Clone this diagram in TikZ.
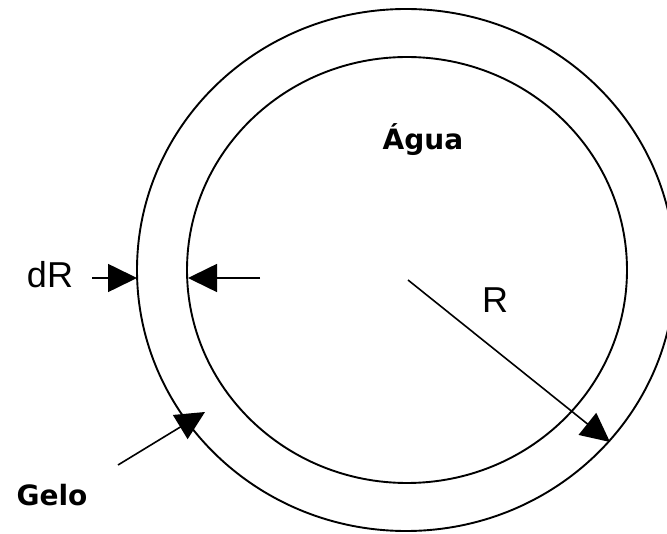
\documentclass[tikz,border=0pt]{standalone}
\usepackage{fontspec}
\setmainfont{Liberation Sans}
\newfontfamily\verdfont{DejaVu Sans}
\usetikzlibrary{arrows.meta}

\begin{document}
\begin{tikzpicture}[x=1pt,y=-1pt,
        ring/.style={line width=1.9pt},
        arr/.style={line width=1.6pt,-{Triangle[length=29pt,width=28pt]}},
        lbl/.style={anchor=base,inner sep=0pt,font=\fontsize{36}{40}\selectfont},
        boldlbl/.style={anchor=base,inner sep=0pt,font=\verdfont\bfseries\fontsize{28}{32}\selectfont}]
        \useasboundingbox (0,0) rectangle (667,534);
        \draw[ring] (406,270) ellipse [x radius=269,y radius=261];
        \draw[ring] (407,270) ellipse [x radius=220,y radius=213];
        \node[boldlbl] (agua) at (423,150) {Água};
        \node[boldlbl] (gelo) at (52,505) {Gelo};
        \node[lbl] (dR) at (50,288) {dR};
        \node[lbl] (R) at (495,313) {R};
        \coordinate (dRtail) at (92,278);
        \coordinate (outerL) at (137,278);
        \coordinate (innertail) at (260,278);
        \coordinate (innerL) at (188,278);
        \coordinate (gelotail) at (118,465);
        \coordinate (gelotip) at (205,412);
        \coordinate (centre) at (408,280);
        \coordinate (outerR) at (610,442);
        \draw[arr] (dRtail)--(outerL);
        \draw[arr] (innertail)--(innerL);
        \draw[arr] (gelotail)--(gelotip);
        \draw[arr] (centre)--(outerR);
\end{tikzpicture}
\end{document}
